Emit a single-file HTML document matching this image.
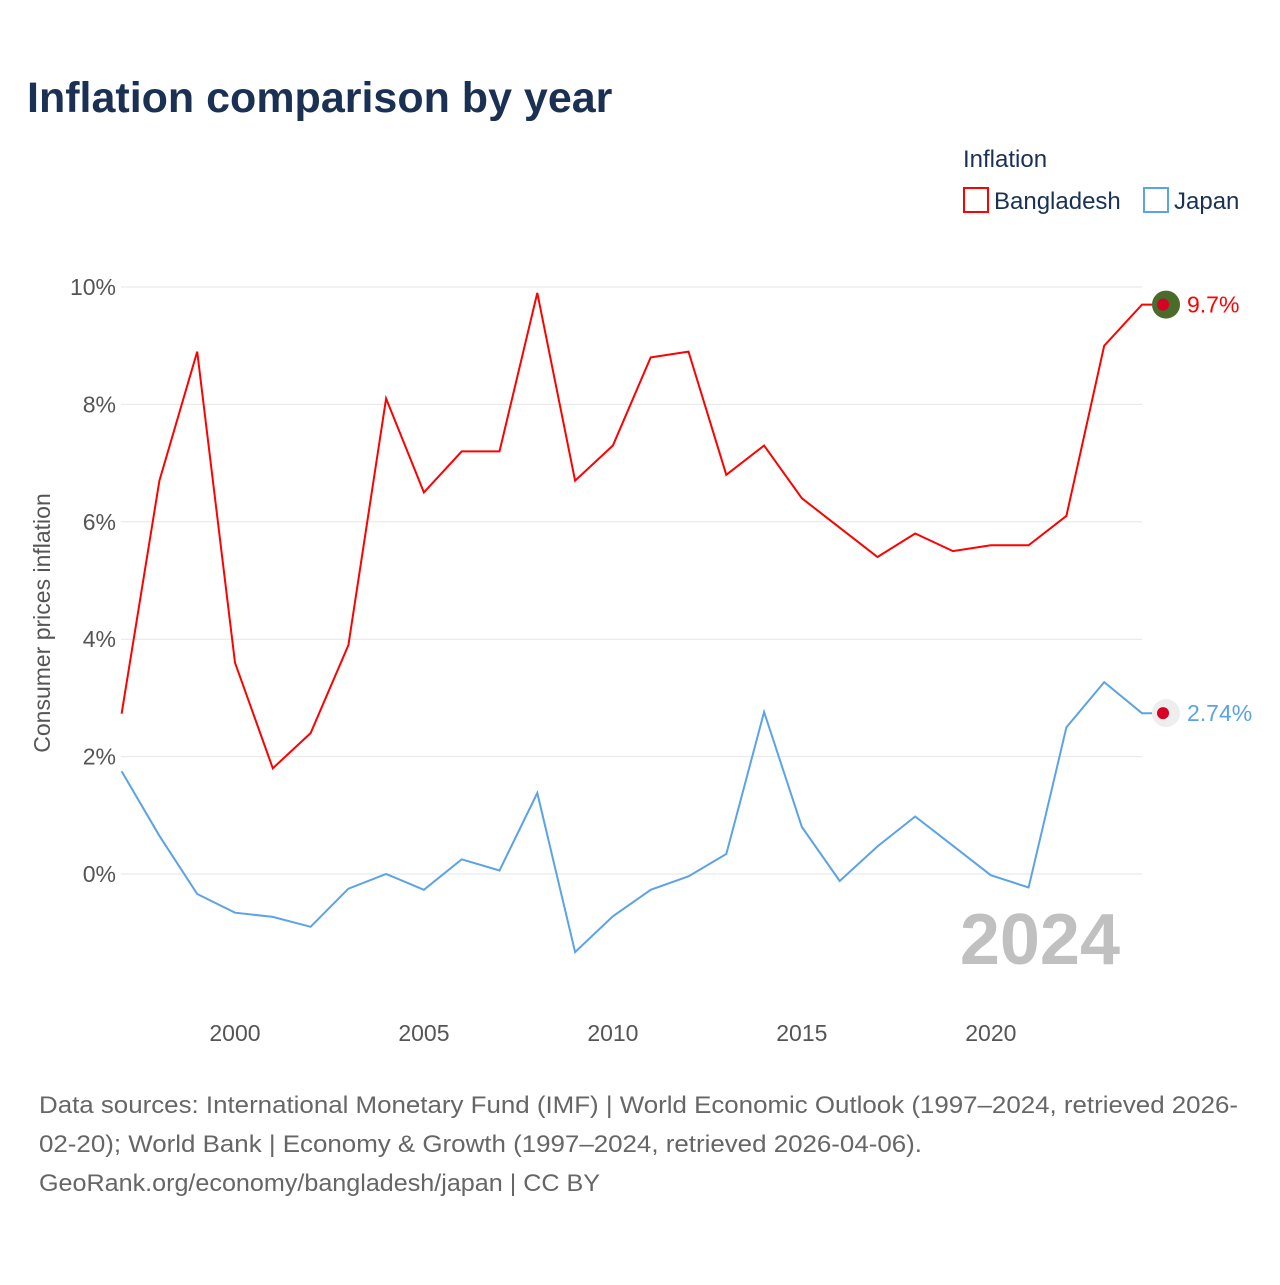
<!DOCTYPE html>
<html><head><meta charset="utf-8"><style>
body{margin:0;background:#fff;font-family:"Liberation Sans",sans-serif;}
svg text{font-family:"Liberation Sans",sans-serif;}
</style></head><body>
<svg id="chart" width="1280" height="1280" xmlns="http://www.w3.org/2000/svg">
<rect width="1280" height="1280" fill="#fff"/>
<text x="27" y="112" font-size="43" font-weight="bold" fill="#1a3154">Inflation comparison by year</text>
<text x="963" y="167" font-size="24" fill="#1a3154">Inflation</text>
<g><rect x="964" y="188" width="24" height="24" fill="none" stroke="#ff0000" stroke-width="2"/><text x="994" y="209" font-size="24" fill="#1a3154">Bangladesh</text></g>
<g><rect x="1144" y="188" width="24" height="24" fill="none" stroke="#5ba3e6" stroke-width="2"/><text x="1174" y="209" font-size="24" fill="#1a3154">Japan</text></g>
<g id="grid"></g><g id="xt"></g><g id="lines"></g>
<text transform="translate(50,623) rotate(-90)" text-anchor="middle" font-size="23" fill="#555">Consumer prices inflation</text>
<text x="1120" y="964" text-anchor="end" font-size="72" font-weight="bold" fill="#c0c0c0">2024</text>
<g font-size="24" fill="#666">
<text x="39" y="1113" textLength="1199" lengthAdjust="spacingAndGlyphs">Data sources: International Monetary Fund (IMF) | World Economic Outlook (1997–2024, retrieved 2026-</text>
<text x="39" y="1152" textLength="883" lengthAdjust="spacingAndGlyphs">02-20); World Bank | Economy &amp; Growth (1997–2024, retrieved 2026-04-06).</text>
<text x="39" y="1191" textLength="561" lengthAdjust="spacingAndGlyphs">GeoRank.org/economy/bangladesh/japan | CC BY</text>
</g>
</svg>
<script>
const years=[1997,1998,1999,2000,2001,2002,2003,2004,2005,2006,2007,2008,2009,2010,2011,2012,2013,2014,2015,2016,2017,2018,2019,2020,2021,2022,2023,2024];
const bangladesh=[2.73,6.7,8.9,3.6,1.8,2.4,3.9,8.1,6.5,7.2,7.2,9.9,6.7,7.3,8.8,8.9,6.8,7.3,6.4,5.9,5.4,5.8,5.5,5.6,5.6,6.1,9.0,9.7];
const japan=[1.75,0.65,-0.34,-0.66,-0.73,-0.9,-0.25,0,-0.27,0.25,0.06,1.38,-1.33,-0.72,-0.27,-0.04,0.34,2.76,0.8,-0.12,0.47,0.98,0.48,-0.02,-0.23,2.5,3.27,2.74];
const yTicks=[0,2,4,6,8,10];
const xTicks=[2000,2005,2010,2015,2020];
const NS="http://www.w3.org/2000/svg";
const X=y=>121.6+(y-1997)*(1142-121.6)/27;
const Y=v=>874-v*58.7;
function mk(t,a,p){const e=document.createElementNS(NS,t);for(const k in a)e.setAttribute(k,a[k]);p.appendChild(e);return e;}
const grid=document.getElementById('grid');
yTicks.forEach(v=>{
 const l=mk('line',{x1:121,x2:1142,y1:Y(v),y2:Y(v),stroke:'#e6e6e6','stroke-width':1},grid);
 
 
 const t=mk('text',{x:116,y:Y(v)+8,'text-anchor':'end','font-size':23,fill:'#555'},grid);
 t.textContent=v+'%';
 
 
});
const xt=document.getElementById('xt');
xTicks.forEach(y=>{
 const t=mk('text',{x:X(y),y:1041,'text-anchor':'middle','font-size':23,fill:'#555'},xt);
 t.textContent=y;
 
 
});
const lines=document.getElementById('lines');
function series(vals,color,name,label,dotFill){
 let d=vals.map((v,i)=>(i?'L':'M')+X(years[i]).toFixed(1)+','+Y(v).toFixed(1)).join(' ');
 const last=vals[vals.length-1];
 d+=' L1152,'+Y(last).toFixed(1);
 const p=mk('path',{d:d,fill:'none',stroke:color,'stroke-width':2},lines);
 
 
 const c=mk('circle',{cx:1166,cy:Y(last),r:14,fill:dotFill},lines);
 
 
 mk('circle',{cx:1163,cy:Y(last),r:6,fill:'#d90026'},lines);
 const t=mk('text',{x:1187,y:Y(last)+8,'font-size':23,fill:color},lines);
 t.textContent=label;
 
 
}
series(bangladesh,'#ff0000','bangladesh','9.7%','#4a6b2a');
series(japan,'#5ba3e6','japan','2.74%','#eeeeee');
</script>
</body></html>
